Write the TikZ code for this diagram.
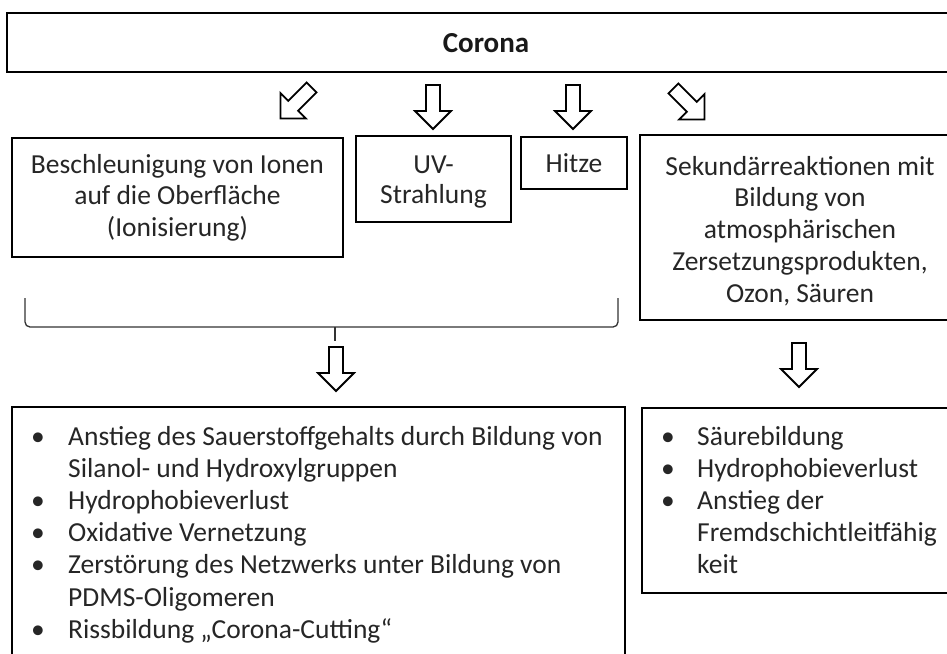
\documentclass[tikz,border=0pt]{standalone}
\usepackage{fontspec}
\setmainfont{Carlito}
\begin{document}
\begin{tikzpicture}[x=1pt,y=-1pt,
  box/.style={draw=black,line width=2pt,fill=none,inner sep=0pt},
  txt/.style={font=\fontsize{27.5}{31.5}\selectfont,inner sep=0pt,anchor=base,text=black!85},
  lst/.style={font=\fontsize{27.5}{32.2}\selectfont,inner sep=0pt,anchor=base west,text=black!85},
  barrow/.pic={\draw[line width=1.8pt,line join=miter,fill=white] (-22,-7) -- (4,-7) -- (4,-18) -- (22,0) -- (4,18) -- (4,7) -- (-22,7) -- cycle;}
]
\useasboundingbox (0,0) rectangle (947,653);
\fill[white] (0,0) rectangle (947,653);
\clip (0,0) rectangle (947,653);

% boxes
\node[box,minimum width=958pt,minimum height=59pt] (corona) at (486,42.5) {};
\node[font=\fontsize{29}{33}\selectfont\bfseries,inner sep=0pt,text=black!90] (coronat) at (486,43) {Corona};

\node[box,minimum width=331pt,minimum height=119pt] (b1) at (177.5,197) {};
\node[txt] (b1t) at (177.5,173) {\begin{tabular}[t]{@{}c@{}}Beschleunigung von Ionen\\auf die Oberfläche\\(Ionisierung)\end{tabular}};

\node[box,minimum width=155pt,minimum height=86pt] (b2) at (433.5,179) {};
\node[txt,font=\fontsize{27.5}{30}\selectfont] (b2t) at (433.5,173) {\begin{tabular}[t]{@{}c@{}}UV-\\Strahlung\end{tabular}};

\node[box,minimum width=106pt,minimum height=52pt] (b3) at (574,163) {};
\node[txt] (b3t) at (574,172) {Hitze};

\node[box,minimum width=320pt,minimum height=185pt] (b4) at (800,227.5) {};
\node[txt,font=\fontsize{27.5}{31.75}\selectfont] (b4t) at (800,175) {\begin{tabular}[t]{@{}c@{}}Sekundärreaktionen mit\\Bildung von\\atmosphärischen\\Zersetzungsprodukten,\\Ozon, Säuren\end{tabular}};

\node[box,minimum width=613pt,minimum height=273pt] (r1) at (318.5,543.5) {};
\node[box,minimum width=318pt,minimum height=185pt] (r2) at (801,500.5) {};

\node[lst] (r1t) at (31,445) {\begin{tabular}[t]{@{}p{37pt}@{}l@{}}
•& Anstieg des Sauerstoffgehalts durch Bildung von\\
 & Silanol- und Hydroxylgruppen\\
•& Hydrophobieverlust\\
•& Oxidative Vernetzung\\
•& Zerstörung des Netzwerks unter Bildung von\\
 & PDMS-Oligomeren\\
•& Rissbildung „Corona-Cutting“
\end{tabular}};

\node[lst] (r2t) at (661,445) {\begin{tabular}[t]{@{}p{36pt}@{}l@{}}
•& Säurebildung\\
•& Hydrophobieverlust\\
•& Anstieg der\\
 & Fremdschichtleitfähig\\
 & keit
\end{tabular}};

% block arrows
\coordinate (a1) at (296,103);
\coordinate (a2) at (433,107);
\coordinate (a3) at (573,107);
\coordinate (a4) at (689,104);
\pic[rotate=-135] at (a1) {barrow};
\pic[rotate=-90] at (a2) {barrow};
\pic[rotate=-90] at (a3) {barrow};
\pic[rotate=-45] at (a4) {barrow};

% brace
\coordinate (brL) at (25,298);
\coordinate (brR) at (618,298);
\coordinate (brT) at (335,341);
\draw[line width=1.3pt,black!80,rounded corners=5pt] (brL) -- (25,327) -- (618,327) -- (brR);
\draw[line width=1.3pt,black!80] (335,327) -- (brT);

\coordinate (a5) at (336,369);
\coordinate (a6) at (799,365);
\pic[rotate=-90] at (a5) {barrow};
\pic[rotate=-90] at (a6) {barrow};
\end{tikzpicture}
\end{document}
